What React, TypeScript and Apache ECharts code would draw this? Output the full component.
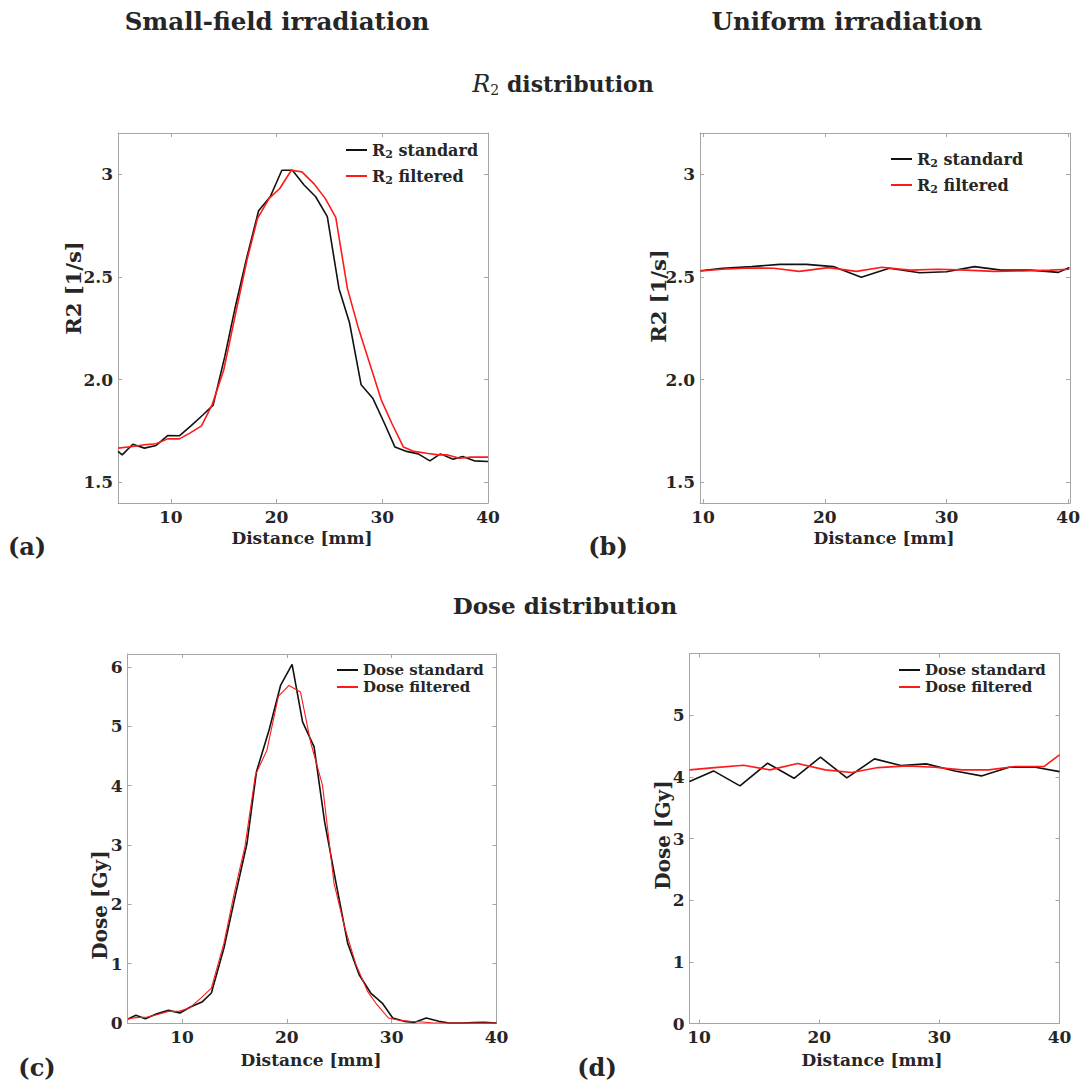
import React, { useEffect, useRef } from "react";
import * as echarts from "echarts";

// ---------- data ----------
const xTicks = [10, 20, 30, 40];
const r2Ticks = [1.5, 2, 2.5, 3];
const doseTicksC = [0, 1, 2, 3, 4, 5, 6];
const doseTicksD = [0, 1, 2, 3, 4, 5];

// (a) small-field R2
const aStdX = [5.0, 5.4, 6.4, 7.5, 8.6, 9.7, 10.8, 11.9, 13.0, 14.0, 15.1, 16.1, 17.2, 18.3, 19.4, 20.5, 21.5, 22.6, 23.7, 24.8, 25.9, 26.9, 28.0, 29.1, 30.2, 31.2, 32.3, 33.4, 34.5, 35.5, 36.7, 37.6, 38.7, 40.0];
const aStdY = [1.651, 1.634, 1.686, 1.667, 1.68, 1.728, 1.727, 1.775, 1.827, 1.876, 2.112, 2.355, 2.598, 2.822, 2.89, 3.019, 3.019, 2.947, 2.89, 2.793, 2.444, 2.277, 1.975, 1.91, 1.788, 1.672, 1.651, 1.639, 1.605, 1.639, 1.613, 1.626, 1.605, 1.602];
const aFiltX = [5.0, 6.4, 7.5, 8.6, 9.7, 10.8, 11.8, 12.9, 13.9, 15.0, 16.1, 17.2, 18.2, 19.3, 20.3, 21.4, 22.4, 23.5, 24.6, 25.6, 26.7, 27.7, 28.8, 29.9, 30.9, 32.0, 33.0, 34.2, 35.3, 36.2, 37.3, 38.4, 40.0];
const aFiltY = [1.667, 1.675, 1.683, 1.688, 1.712, 1.712, 1.74, 1.775, 1.877, 2.047, 2.315, 2.582, 2.785, 2.882, 2.93, 3.019, 3.011, 2.955, 2.882, 2.789, 2.444, 2.258, 2.08, 1.902, 1.788, 1.672, 1.651, 1.642, 1.634, 1.634, 1.618, 1.623, 1.623];

// (b) uniform R2
const bStdX = [9.8, 11.6, 14.0, 16.3, 18.5, 20.7, 23.0, 25.3, 27.8, 30.0, 32.3, 34.5, 36.9, 39.2, 40.1];
const bStdY = [2.53, 2.542, 2.55, 2.561, 2.561, 2.55, 2.498, 2.542, 2.52, 2.525, 2.55, 2.533, 2.533, 2.522, 2.546];
const bFiltX = [9.8, 11.6, 13.8, 15.8, 17.9, 20.3, 22.6, 24.7, 27.0, 29.3, 31.6, 33.9, 36.3, 38.5, 40.1];
const bFiltY = [2.529, 2.537, 2.543, 2.542, 2.527, 2.545, 2.527, 2.547, 2.533, 2.537, 2.533, 2.527, 2.529, 2.533, 2.537];

// (c) small-field dose
const cStdX = [4.85, 5.6, 6.5, 7.6, 8.7, 9.8, 10.8, 11.9, 12.8, 14.0, 15.1, 16.2, 17.1, 18.3, 19.4, 20.5, 21.5, 22.6, 23.6, 24.7, 25.8, 26.9, 28.0, 29.1, 30.1, 31.2, 32.2, 33.3, 34.5, 35.5, 36.7, 37.8, 38.8, 40.0];
const cStdY = [0.067, 0.129, 0.073, 0.157, 0.213, 0.168, 0.269, 0.353, 0.505, 1.262, 2.159, 3.03, 4.234, 4.935, 5.69, 6.046, 5.076, 4.655, 3.393, 2.355, 1.346, 0.813, 0.505, 0.336, 0.084, 0.028, 0.011, 0.084, 0.028, 0.0, 0.0, 0.006, 0.011, 0.0];
const cFiltX = [4.85, 5.6, 6.7, 7.6, 8.7, 9.7, 10.7, 11.8, 12.8, 14.0, 15.0, 16.0, 17.0, 18.1, 19.2, 20.2, 21.3, 22.3, 23.4, 24.5, 25.5, 26.6, 27.7, 28.6, 29.7, 30.7, 31.8, 32.9, 34.0, 35.1, 36.2, 37.3, 38.4, 40.0];
const cFiltY = [0.067, 0.09, 0.1, 0.14, 0.196, 0.196, 0.252, 0.42, 0.589, 1.346, 2.2, 2.972, 4.178, 4.599, 5.508, 5.69, 5.58, 4.711, 4.01, 2.355, 1.626, 0.981, 0.533, 0.308, 0.084, 0.045, 0.028, 0.017, 0, 0, 0, 0, 0, 0];

// (d) uniform dose
const dStdX = [9.2, 11.2, 13.4, 15.7, 17.9, 20.1, 22.3, 24.6, 26.8, 28.9, 31.3, 33.5, 35.8, 38.0, 40.0];
const dStdY = [3.923, 4.096, 3.853, 4.221, 3.977, 4.318, 3.983, 4.291, 4.183, 4.21, 4.096, 4.015, 4.156, 4.156, 4.085];
const dFiltX = [9.2, 11.3, 13.7, 15.9, 18.2, 20.5, 22.7, 24.9, 27.3, 29.6, 31.9, 34.1, 36.3, 38.7, 40.0];
const dFiltY = [4.113, 4.15, 4.188, 4.113, 4.215, 4.113, 4.069, 4.15, 4.177, 4.156, 4.113, 4.113, 4.167, 4.167, 4.356];

const R2_STD = "R2 standard";
const R2_FILT = "R2 filtered";
const DOSE_STD = "Dose standard";
const DOSE_FILT = "Dose filtered";

// ---------- styling ----------
const FONT = '"DejaVu Serif", serif';
const AX = "#a6a6a6";
const TXT = "#262626";

const zip = (xs: number[], ys: number[]) => xs.map((x, i) => [x, ys[i]]);

type Panel = {
  left: number; top: number; width: number; height: number;
  xMin: number; xMax: number; yMin: number; yMax: number;
  yTicks: number[]; yFmt?: (v: number) => string;
};

const panels: Panel[] = [
  { left: 118, top: 133, width: 370, height: 370, xMin: 5, xMax: 40, yMin: 1.4, yMax: 3.2, yTicks: r2Ticks, yFmt: (v) => (v === 2 ? "2.0" : String(v)) },
  { left: 700, top: 133, width: 370, height: 370, xMin: 9.75, xMax: 40.15, yMin: 1.4, yMax: 3.2, yTicks: r2Ticks, yFmt: (v) => (v === 2 ? "2.0" : String(v)) },
  { left: 127.5, top: 654, width: 369, height: 369, xMin: 4.8, xMax: 40, yMin: 0, yMax: 6.22, yTicks: doseTicksC },
  { left: 689.5, top: 653.5, width: 370, height: 370, xMin: 9.2, xMax: 40, yMin: 0, yMax: 6, yTicks: doseTicksD },
];

function buildOption() {
  const grid: any[] = [];
  const xAxis: any[] = [];
  const yAxis: any[] = [];
  const tickStyle = { color: AX, width: 1 };
  const labelStyle = { fontFamily: FONT, fontWeight: "bold", fontSize: 17, color: TXT };
  panels.forEach((p, i) => {
    grid.push({ left: p.left, top: p.top, width: p.width, height: p.height, containLabel: false });
    ["bottom", "top"].forEach((pos) => {
      xAxis.push({
        gridIndex: i, type: "value", position: pos, min: p.xMin, max: p.xMax,
        axisLine: { show: true, onZero: false, lineStyle: tickStyle },
        axisTick: { show: true, inside: true, length: 4, customValues: xTicks, lineStyle: tickStyle },
        axisLabel: pos === "bottom"
          ? { show: true, customValues: xTicks, margin: 5, ...labelStyle }
          : { show: false },
        splitLine: { show: false },
      });
    });
    ["left", "right"].forEach((pos) => {
      yAxis.push({
        gridIndex: i, type: "value", position: pos, min: p.yMin, max: p.yMax,
        axisLine: { show: true, onZero: false, lineStyle: tickStyle },
        axisTick: { show: true, inside: true, length: 4, customValues: p.yTicks, lineStyle: tickStyle },
        axisLabel: pos === "left"
          ? { show: true, customValues: p.yTicks, margin: 5, formatter: p.yFmt ? (v: number) => p.yFmt!(v) : undefined, ...labelStyle }
          : { show: false },
        splitLine: { show: false },
      });
    });
  });

  const line = (name: string, panel: number, xs: number[], ys: number[], color: string, width: number) => ({
    type: "line", name, xAxisIndex: panel * 2, yAxisIndex: panel * 2,
    data: zip(xs, ys), symbol: "none", showSymbol: false,
    lineStyle: { color, width }, itemStyle: { color }, clip: true, z: 3,
  });

  const series = [
    line(R2_STD, 0, aStdX, aStdY, "#111111", 1.6),
    line(R2_FILT, 0, aFiltX, aFiltY, "#ff1a1a", 1.6),
    line(R2_STD, 1, bStdX, bStdY, "#111111", 1.6),
    line(R2_FILT, 1, bFiltX, bFiltY, "#ff1a1a", 1.6),
    line(DOSE_STD, 2, cStdX, cStdY, "#111111", 1.6),
    line(DOSE_FILT, 2, cFiltX, cFiltY, "#ff1a1a", 1.1),
    line(DOSE_STD, 3, dStdX, dStdY, "#111111", 1.6),
    line(DOSE_FILT, 3, dFiltX, dFiltY, "#ff1a1a", 1.6),
  ];

  const r2Rich = {
    r: { fontFamily: FONT, fontWeight: "bold", fontSize: 16, lineHeight: 20, color: TXT },
    s: { fontFamily: FONT, fontWeight: "bold", fontSize: 11, lineHeight: 11, padding: [9, 0, 0, 0], color: TXT },
  };
  const r2Fmt = (name: string) => {
    const m = name.match(/^R2(.*)$/);
    return m ? `{r|R}{s|2}{r|${m[1]}}` : name;
  };

  const legendBase = {
    orient: "vertical", selectedMode: false, icon: "rect", itemWidth: 21, itemHeight: 2,
    padding: 0,
  };
  const doseText = { fontFamily: FONT, fontWeight: "bold", fontSize: 15, lineHeight: 16, color: TXT };
  const legend = [
    { ...legendBase, left: 346, top: 140, itemGap: 6, data: [R2_STD, R2_FILT], formatter: r2Fmt, textStyle: { fontFamily: FONT, fontWeight: "bold", fontSize: 16, lineHeight: 20, color: TXT, rich: r2Rich } },
    { ...legendBase, left: 891, top: 149, itemGap: 6, data: [R2_STD, R2_FILT], formatter: r2Fmt, textStyle: { fontFamily: FONT, fontWeight: "bold", fontSize: 16, lineHeight: 20, color: TXT, rich: r2Rich } },
    { ...legendBase, left: 337, top: 662, itemGap: 1, data: [DOSE_STD, DOSE_FILT], textStyle: doseText },
    { ...legendBase, left: 899, top: 662, itemGap: 1, data: [DOSE_STD, DOSE_FILT], textStyle: doseText },
  ];

  const txt = (text: string, x: number, y: number, size: number, extra: any = {}) => ({
    type: "text", x, y, rotation: extra.rotation || 0, silent: true,
    style: {
      text, x: 0, y: 0, fill: TXT, fontFamily: FONT, fontWeight: extra.weight || "bold",
      fontSize: size, align: "center", verticalAlign: "middle", rich: extra.rich,
    },
  });

  const graphic = [
    txt("Small-field irradiation", 277, 21, 24.5),
    txt("Uniform irradiation", 847, 21, 24.5),
    txt("{it|R}{s|2}{n| distribution}", 563, 84, 22, {
      rich: {
        it: { fontFamily: FONT, fontStyle: "italic", fontWeight: "normal", fontSize: 24, lineHeight: 26, fill: TXT },
        s: { fontFamily: FONT, fontWeight: "normal", fontSize: 14, lineHeight: 14, verticalAlign: "bottom", fill: TXT },
        n: { fontFamily: FONT, fontWeight: "bold", fontSize: 22, lineHeight: 26, fill: TXT },
      },
    }),
    txt("Dose distribution", 565, 605, 23),
    txt("R2 [1/s]", 73, 288, 21, { rotation: Math.PI / 2 }),
    txt("R2 [1/s]", 658, 296, 21, { rotation: Math.PI / 2 }),
    txt("Dose [Gy]", 100, 905, 20, { rotation: Math.PI / 2 }),
    txt("Dose [Gy]", 663, 835, 20, { rotation: Math.PI / 2 }),
    txt("Distance [mm]", 302, 538, 17),
    txt("Distance [mm]", 884, 538, 17),
    txt("Distance [mm]", 311, 1060, 17),
    txt("Distance [mm]", 872, 1060, 17),
    txt("(a)", 27, 546, 24),
    txt("(b)", 608, 546, 24),
    txt("(c)", 37, 1067, 24),
    txt("(d)", 597, 1067, 24),
  ];

  return {
    animation: false,
    backgroundColor: "#ffffff",
    textStyle: { fontFamily: FONT },
    grid, xAxis, yAxis, series, legend, graphic,
  };
}

export default function App() {
  const ref = useRef<HTMLDivElement>(null);
  useEffect(() => {
    document.body.style.margin = "0";
    if (!ref.current) return;
    const chart = echarts.init(ref.current, null, { renderer: "svg" });
    chart.setOption(buildOption() as any);
    return () => chart.dispose();
  }, []);
  return <div ref={ref} style={{ width: 1085, height: 1084 }} />;
}
